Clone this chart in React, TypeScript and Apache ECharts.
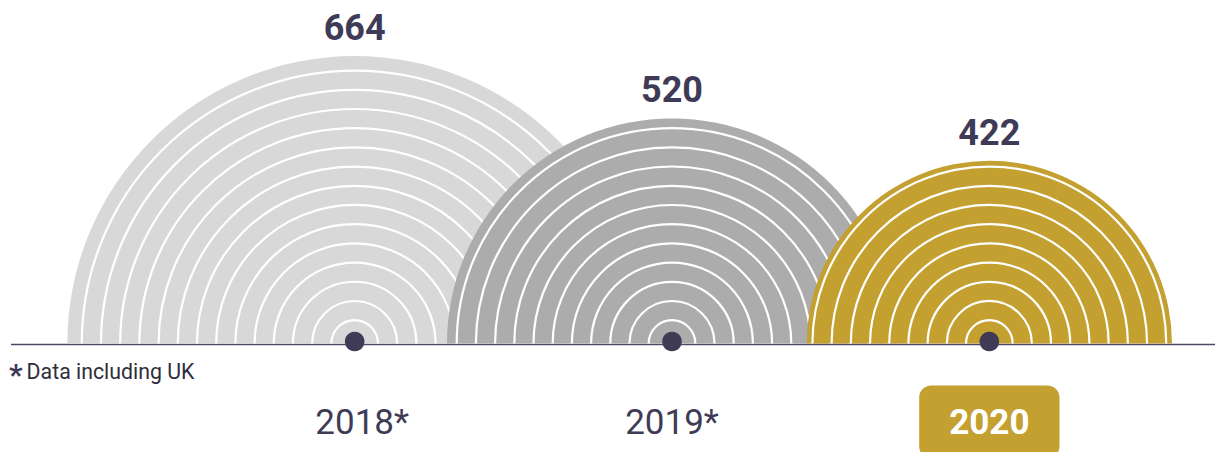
import React, { useEffect, useRef } from "react";
import * as echarts from "echarts";

const categories = ["2018", "2019", "2020"];
const values = [664, 520, 422];
const includesUK = [true, true, false];
const fillColors = ["#d9d8d9", "#acacac", "#c3a030"];
const highlight = [false, false, true];
const footnote = "Data including UK";

const NAVY = "#3f3b57";
const RING_START = 23.3;
const RING_STEP = 19.2;

export default function App() {
  const ref = useRef<HTMLDivElement>(null);
  useEffect(() => {
    const chart = echarts.init(ref.current!, null, { renderer: "svg" });
    const option: any = {
      animation: false,
      grid: { left: 196, right: 67, top: 0, bottom: 108, containLabel: false, outerBoundsMode: "none" },
      xAxis: {
        type: "category",
        data: categories,
        axisLine: { show: false },
        axisTick: { show: false },
        splitLine: { show: false },
        axisLabel: {
          interval: 0,
          hideOverlap: false,
          margin: 78,
          verticalAlign: "middle",
          fontFamily: "Roboto",
          fontSize: 35,
          color: NAVY,
          formatter: (v: string) => {
            const i = categories.indexOf(v);
            if (highlight[i]) return `{hl|${v}}`;
            if (!includesUK[i]) return v;
            return i === 0 ? `{pad|*}${v}{ast|*}` : `${v}{ast|*}`;
          },
          rich: {
            pad: { fontSize: 35, fontFamily: "Roboto", color: "rgba(0,0,0,0)" },
            ast: { fontSize: 35, fontFamily: "Roboto", color: NAVY },
            hl: {
              fontSize: 35,
              fontWeight: "bold",
              fontFamily: "Roboto",
              color: "#ffffff",
              backgroundColor: "#c3a030",
              borderRadius: 12,
              padding: [19, 30, 19, 30],
              lineHeight: 36,
            },
          },
        },
      },
      yAxis: {
        type: "value",
        min: 0,
        max: 795,
        show: false,
        splitLine: { show: false },
      },
      graphic: [
        {
          type: "line",
          z: 1,
          shape: { x1: 11, y1: 344.5, x2: 1215, y2: 344.5 },
          style: { stroke: "#4d4866", lineWidth: 1.6 },
        },
        {
          type: "text",
          left: 9,
          top: 359,
          style: {
            text: "{a|*}{b|" + footnote + "}",
            rich: {
              a: { fontSize: 30, fontWeight: "bold", fontFamily: "Roboto", fill: NAVY, padding: [5, 4, 0, 0] },
              b: { fontSize: 21.3, fontFamily: "Roboto", fill: "#2f2d3a" },
            },
          },
        },
      ],
      series: [
        {
          type: "custom",
          z: 2,
          data: values.map((v, i) => [i, v]),
          renderItem: (params: any, api: any) => {
            const i = api.value(0);
            const v = api.value(1);
            const c = api.coord([i, 0]);
            const r = api.size([0, v])[1];
            const cx = c[0];
            const cy = c[1] - 0.5;
            const children: any[] = [
              {
                type: "sector",
                shape: { cx, cy, r0: 0, r, startAngle: Math.PI, endAngle: Math.PI * 2, clockwise: true },
                style: { fill: fillColors[i] },
              },
            ];
            for (let rr = RING_START; rr < r - 4; rr += RING_STEP) {
              children.push({
                type: "arc",
                shape: { cx, cy, r: rr, startAngle: Math.PI, endAngle: Math.PI * 2, clockwise: true },
                style: { stroke: "#ffffff", lineWidth: 2.2, fill: null },
              });
            }
            children.push({
              type: "circle",
              shape: { cx, cy: cy - 2, r: 9.8 },
              style: { fill: NAVY },
              z2: 10,
            });
            children.push({
              type: "text",
              style: {
                text: String(v),
                x: cx,
                y: cy - r - 28,
                align: "center",
                verticalAlign: "middle",
                fontSize: 36,
                fontWeight: "bold",
                fontFamily: "Roboto",
                fill: NAVY,
              },
            });
            return { type: "group", children };
          },
        },
      ],
    };
    chart.setOption(option);
    return () => chart.dispose();
  }, []);
  return (
    <div
      ref={ref}
      style={{ position: "fixed", left: 0, top: 0, width: 1215, height: 452, background: "#ffffff" }}
    />
  );
}
